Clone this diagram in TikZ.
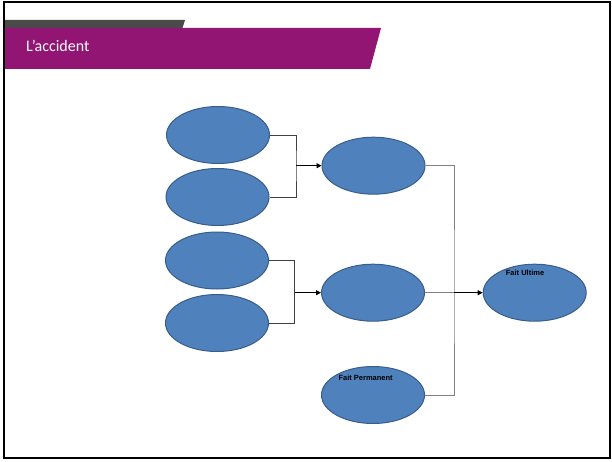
\documentclass[tikz,border=0pt]{standalone}
\usepackage{fontspec}
\setmainfont{Liberation Sans}
\newfontfamily\titlefont{Carlito}
\usetikzlibrary{shapes.geometric,arrows.meta}
\definecolor{ellfill}{HTML}{4F81BD}
\definecolor{elldraw}{HTML}{385D8A}
\definecolor{bandpurple}{HTML}{921574}
\definecolor{bandgray}{HTML}{4A4A4A}
\definecolor{linegray}{HTML}{404040}
\tikzset{
  blob/.style={ellipse, draw=elldraw, fill=ellfill, line width=1pt,
    minimum width=103pt, minimum height=57pt, inner sep=0pt},
  link/.style={draw=linegray, line width=0.8pt},
  linkarrow/.style={draw=black, line width=0.8pt, -{Triangle[length=5pt,width=5pt]}},
  label/.style={font=\fontsize{7.5}{9}\selectfont\bfseries, text=black, inner sep=0pt}
}
\begin{document}
\begin{tikzpicture}[x=1pt,y=-1pt]
\useasboundingbox (0,0) rectangle (612,462);
\fill[white] (0,0) rectangle (612,462);
% header bands
\fill[bandgray] (4,20) -- (185,20) -- (182.5,28) -- (4,28) -- cycle;
\fill[bandpurple] (4,28) -- (381,28) -- (370,69) -- (4,69) -- cycle;
\node[anchor=west, text=white, font=\titlefont\fontsize{16}{19}\selectfont, inner sep=0pt] (title) at (26,46) {L’accident};
% frame
\draw[black, line width=2pt] (4,2) rectangle (609.5,458);
% ellipses
\node[blob] (e1) at (218,135) {};
\node[blob] (e2) at (217.5,197) {};
\node[blob] (e3) at (217,260.5) {};
\node[blob] (e4) at (217,323) {};
\node[blob] (m1) at (373.5,165.7) {};
\node[blob] (m2) at (373,292.7) {};
\node[blob] (fp) at (373,395) {};
\node[blob] (fu) at (534.7,292.7) {};
\node[label, anchor=north west] at (338.3,374.5) {Fait Permanent};
\node[label, anchor=north west] at (505.7,269.5) {Fait Ultime};
% connectors
\coordinate (j1) at (296,165.7);
\coordinate (j2) at (294.7,292.7);
\coordinate (j3) at (454,292.7);
\draw[link] (e1.east) -| (j1) |- (e2.east);
\draw[linkarrow] (j1) -- (m1.west);
\draw[link] (e3.east) -| (j2) |- (e4.east);
\draw[linkarrow] (j2) -- (m2.west);
\draw[link, draw=gray] (m1.east) -| (j3) |- (fp.east);
\draw[link, draw=gray] (m2.east) -- (j3);
\draw[linkarrow] (j3) -- (fu.west);
\end{tikzpicture}
\end{document}
